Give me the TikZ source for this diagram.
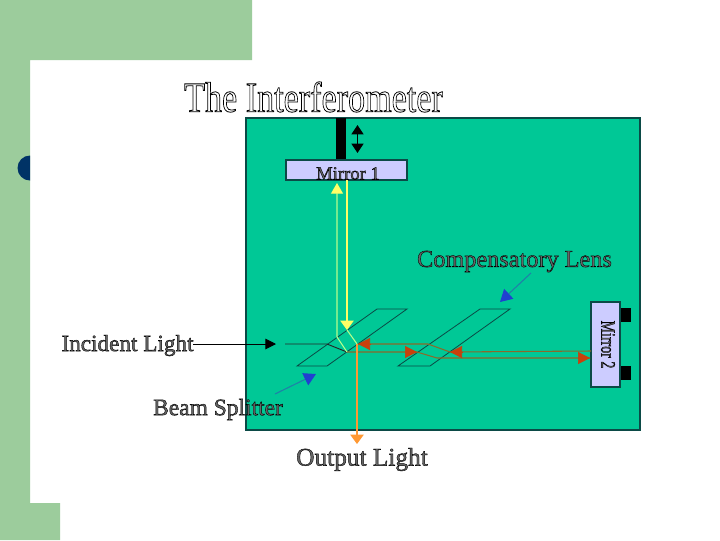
\documentclass[tikz,border=0pt]{standalone}
\usepackage{fontspec}
\usepackage{graphicx}
\setmainfont{Liberation Serif}
\usetikzlibrary{arrows.meta}
\definecolor{pagegreen}{HTML}{9CCC9C}
\definecolor{panel}{HTML}{00C896}
\definecolor{mirrorfill}{HTML}{CCCCFF}
\definecolor{panelline}{HTML}{0B4A46}
\definecolor{navy}{HTML}{003366}
\definecolor{beamred}{HTML}{C8400C}
\definecolor{beamline}{HTML}{8A6A2A}
\definecolor{beamyellow}{HTML}{FFFF66}
\definecolor{beampale}{HTML}{B4FF8C}
\definecolor{beamorange}{HTML}{FF9933}
\definecolor{pointer}{HTML}{2080A8}
\definecolor{pointerhead}{HTML}{2040D0}
\newcommand{\outlined}[1]{\special{pdf:code q 2 Tr 0.5 w 0 0 0 RG 1 1 1 rg}#1\special{pdf:code Q}}
\newcommand{\inked}[1]{\special{pdf:code q 2 Tr 0.3 w 0 0 0 RG 0.4 0.4 0.4 rg}#1\special{pdf:code Q}}
\tikzset{
  x=0.75pt,y=-0.75pt,
  label text/.style={inner sep=0pt,font=\fontsize{#1}{20}\selectfont},
  mirror/.style={draw=panelline,line width=0.8pt,fill=mirrorfill,inner sep=0pt},
  plate/.style={draw=panelline,line width=0.6pt},
  ray/.style={line width=0.8pt},
  smallhead/.style={-{Triangle[length=8pt,width=8pt]}},
  redhead/.style={beamred,line width=0.4pt,-{Triangle[length=9pt,width=9pt]}},
  pointerarrow/.style={ray,pointer,-{Triangle[length=9pt,width=10pt,color=pointerhead]}},
}
\begin{document}
\begin{tikzpicture}
\useasboundingbox (0,0) rectangle (720,540);
\fill[white] (0,0) rectangle (720,540);
\fill[pagegreen] (0,0) -- (252,0) -- (252,60) -- (30,60) -- (30,503) -- (60,503) -- (60,540) -- (0,540) -- cycle;
\begin{scope}
\clip (0,140) rectangle (30,190);
\fill[navy] (30,168) circle (12.5);
\end{scope}
\node[inner sep=0pt,font=\fontsize{25.6}{30}\selectfont,yscale=1.25,transform shape] (title) at (313.5,97) {\outlined{The Interferometer}};
\node[draw=panelline,line width=0.8pt,fill=panel,minimum width=295.5pt,minimum height=234pt,inner sep=0pt] (panel) at (443,274) {};
\fill[black] (336,118) rectangle (346,160);
\node[mirror,minimum width=90.75pt,minimum height=15pt] (m1) at (346.5,170) {};
\node[label text=14] (m1label) at (348,173.5) {\inked{Mirror 1}};
\coordinate (dA) at (357.5,125);
\coordinate (dB) at (357.5,153);
\draw[line width=1.2pt,{Triangle[length=7pt,width=9pt]}-{Triangle[length=7pt,width=9pt]}] (dA) -- (dB);
\fill[black] (620,308) rectangle (631,322);
\fill[black] (620,366) rectangle (631,380);
\node[mirror,minimum width=21.75pt,minimum height=63.75pt] (m2) at (605.5,344.5) {};
\node[label text=14,rotate=-90] (m2label) at (608,344.5) {\scalebox{0.75}[1.1]{\inked{Mirror 2}}};
% plates
\coordinate (p1a) at (297,366); \coordinate (p1b) at (327,366); \coordinate (p1c) at (407,309); \coordinate (p1d) at (377,309);
\coordinate (p2a) at (398,366); \coordinate (p2b) at (430,366); \coordinate (p2c) at (510,309); \coordinate (p2d) at (480,309);
\draw[plate] (p1a) -- (p1b) -- (p1c) -- (p1d) -- cycle;
\draw[plate] (p2a) -- (p2b) -- (p2c) -- (p2d) -- cycle;
% labels
\node[label text=17.4] (incident) at (127.5,345.5) {\inked{Incident Light}};
\node[label text=17.6] (splitter) at (218,409.5) {\inked{Beam Splitter}};
\node[label text=18.2] (comp) at (514.5,261.5) {\inked{Compensatory Lens}};
\node[label text=19] (output) at (362,459.5) {\inked{Output Light}};
% incident
\coordinate (iS) at (193,344); \coordinate (iT) at (276,344);
\coordinate (iB) at (285,344); \coordinate (iM) at (327,344); \coordinate (iJ) at (347,352);
\draw[line width=0.7pt,smallhead] (iS) -- (iT);
\draw[line width=0.7pt,black!85] (iB) -- (iM) -- (iJ);
% red beams
\coordinate (r1) at (417,352); \coordinate (r2) at (437,358); \coordinate (r3) at (590,358);
\coordinate (r4) at (591,351); \coordinate (r5) at (450,352); \coordinate (r6) at (428,344); \coordinate (r7) at (358,344);
\draw[ray,beamline] (iJ) -- (r1) -- (r2) -- (r3);
\draw[ray,beamline] (r4) -- (r5) -- (r6) -- (r7);
\draw[redhead] (405,352) -- (r1);
\draw[redhead] (578,358) -- (r3);
\draw[redhead] (462,352) -- (r5);
\draw[redhead] (371,344) -- (r7);
% vertical beams
\coordinate (g1) at (337,183); \coordinate (g2) at (337,337);
\draw[ray,beampale,-{Triangle[length=8pt,width=9pt,color=beamyellow]}] (iJ) -- (g2) -- (g1);
\coordinate (y1) at (347,180); \coordinate (y2) at (347,330); \coordinate (y3) at (357,344);
\draw[ray,beamyellow,-{Triangle[length=7pt,width=10pt]}] (y1) -- (y2);
\draw[ray,beampale] (y2) -- (y3);
\coordinate (o1) at (357,444);
\draw[ray,beamorange,-{Triangle[length=7pt,width=10pt]}] (y3) -- (o1);
% pointers
\coordinate (b1) at (275,394); \coordinate (b2) at (316,374);
\coordinate (c1) at (531,273); \coordinate (c2) at (500,302);
\draw[pointerarrow] (b1) -- (b2);
\draw[pointerarrow] (c1) -- (c2);
\end{tikzpicture}
\end{document}
